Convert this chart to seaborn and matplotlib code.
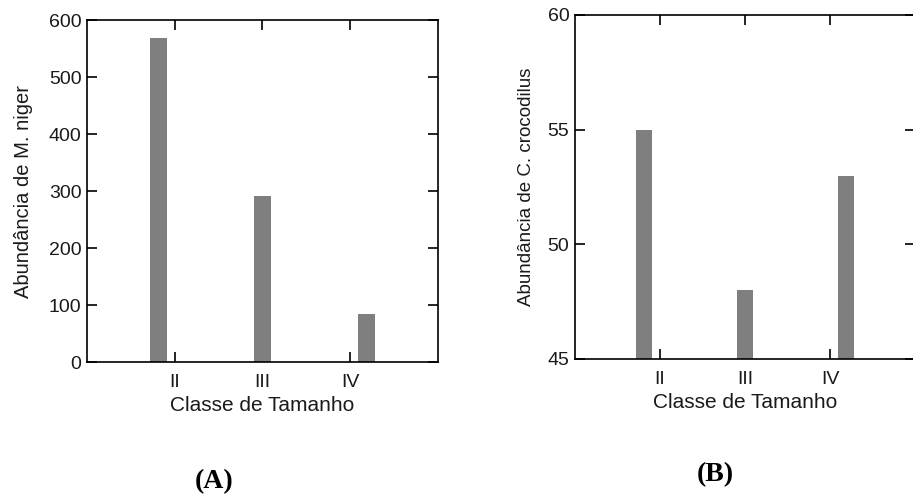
import matplotlib
matplotlib.use("Agg")
import matplotlib.pyplot as plt
import seaborn as sns
import pandas as pd

# Size classes and abundances per species
classes = ["II", "III", "IV"]
abund_niger = [569, 292, 85]
abund_croc = [55, 48, 53]

sns.set_theme(style="white")
plt.rcParams["font.family"] = ["Liberation Sans", "DejaVu Sans"]

bar_color = "#7f7f7f"
text_color = "#1a1a1a"

fig = plt.figure(figsize=(9.13, 4.99), dpi=100)
ax_a = fig.add_axes([0.0953, 0.2745, 0.3844, 0.6854])
ax_b = fig.add_axes([0.6298, 0.2806, 0.3724, 0.6894])


def draw_panel(ax, values, ylim, yticks, ylabel, ylabel_size, ylabelpad):
    df = pd.DataFrame({"Classe": classes, "Abundancia": values})
    sns.barplot(data=df, x="Classe", y="Abundancia", hue="Classe",
                hue_order=classes, order=classes, dodge=True, width=0.56,
                palette=[bar_color] * len(classes), saturation=1,
                legend=False, ax=ax, linewidth=0)
    ax.set_xlim(-1, 3)
    ax.set_ylim(*ylim)
    ax.set_yticks(yticks)
    ax.set_yticklabels([str(t) for t in yticks])
    ax.set_xticks(range(len(classes)))
    ax.set_xticklabels(classes)
    for s in ax.spines.values():
        s.set_visible(True)
        s.set_color("black")
        s.set_linewidth(1.2)
    ax.tick_params(axis="both", which="both", direction="in", length=7,
                   width=1.2, color="black", top=True, right=True,
                   bottom=True, left=True, labelsize=14,
                   labelcolor=text_color)
    ax.tick_params(axis="x", pad=8.5)
    ax.tick_params(axis="y", pad=4)
    ax.set_xlabel("Classe de Tamanho", fontsize=15, color=text_color,
                  labelpad=4)
    ax.set_ylabel(ylabel, fontsize=ylabel_size, color=text_color,
                  labelpad=ylabelpad)


draw_panel(ax_a, abund_niger, (0, 600), [0, 100, 200, 300, 400, 500, 600],
           "Abundância de M. niger", 14.5, 11)
draw_panel(ax_b, abund_croc, (45, 60), [45, 50, 55, 60],
           "Abundância de C. crocodilus", 13.5, 9)

fig.text(214 / 913, 1 - 482 / 499, "(A)", ha="center", va="center",
         fontsize=20, fontweight="bold", family="Liberation Serif",
         color="black")
fig.text(715 / 913, 1 - 475 / 499, "(B)", ha="center", va="center",
         fontsize=20, fontweight="bold", family="Liberation Serif",
         color="black")

fig.savefig("out.png", dpi=100)
